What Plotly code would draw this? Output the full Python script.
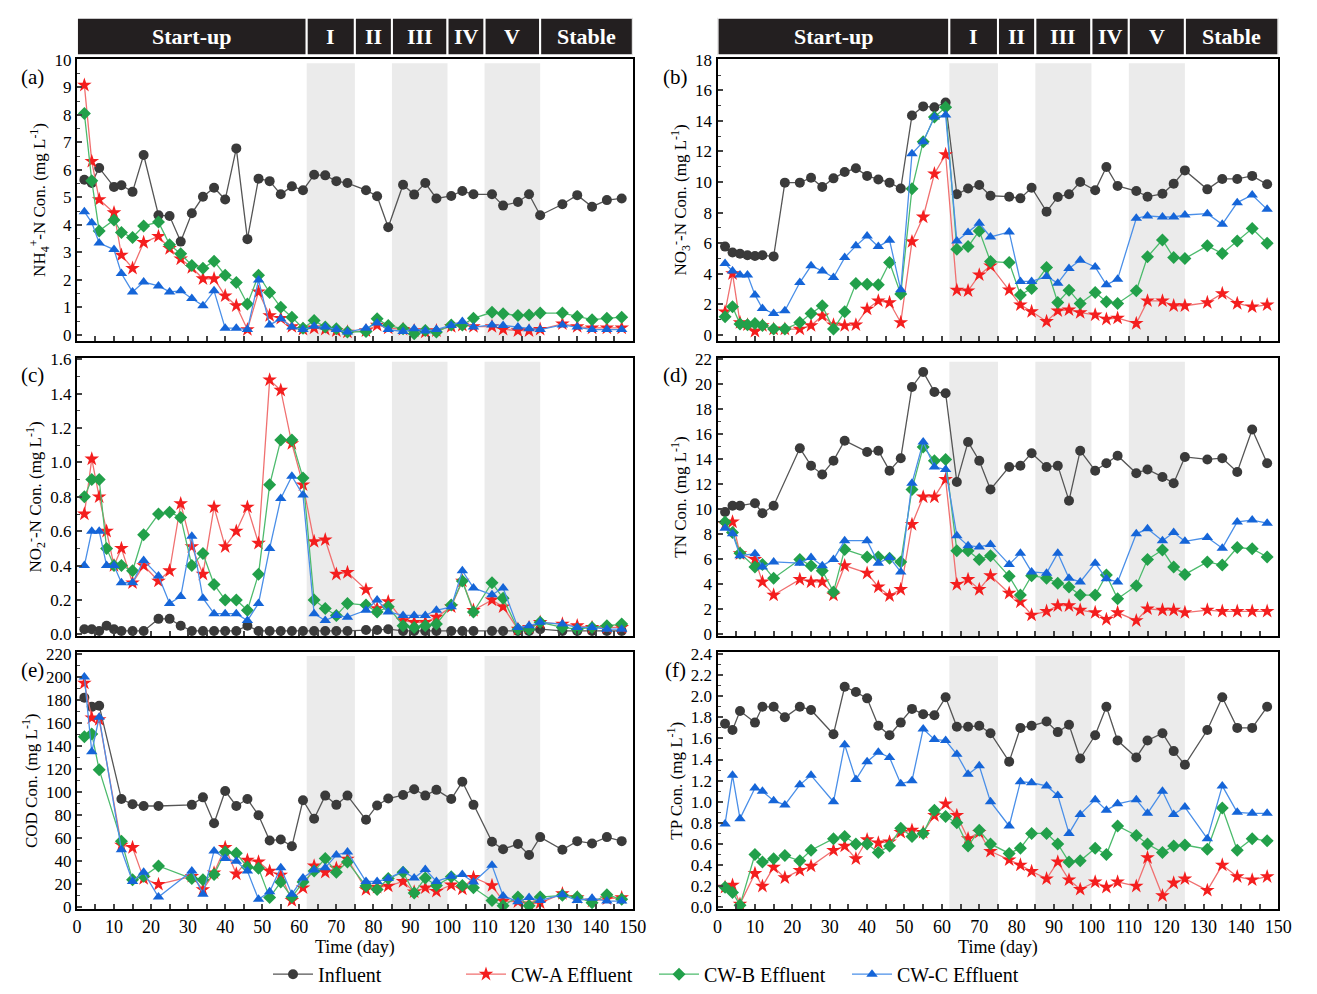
import plotly.graph_objects as go

# ---------------- data ----------------
days_a = [2,4,6,10,12,15,18,22,25,28,31,34,37,40,43,46,49,52,55,58,61,64,67,70,73,78,81,84,88,91,94,97,101,104,107,112,115,119,122,125,131,135,139,143,147]
nh4_inf = [5.64,5.52,6.07,5.38,5.44,5.2,6.54,4.35,4.32,3.39,4.42,5.02,5.35,4.92,6.78,3.48,5.68,5.59,5.11,5.4,5.26,5.82,5.8,5.59,5.52,5.26,5.04,3.91,5.46,5.1,5.52,4.96,5.05,5.23,5.11,5.11,4.7,4.83,5.11,4.35,4.75,5.08,4.66,4.9,4.96]
nh4_a = [9.08,6.31,4.92,4.44,2.9,2.42,3.36,3.58,3.14,2.76,2.45,2.04,2.04,1.42,1.06,0.19,1.56,0.7,0.6,0.3,0.2,0.25,0.2,0.15,0.1,0.15,0.35,0.25,0.2,0.15,0.1,0.15,0.3,0.35,0.3,0.3,0.2,0.15,0.15,0.2,0.4,0.3,0.25,0.25,0.25]
nh4_b = [8.05,5.6,3.78,4.18,3.72,3.54,3.96,4.1,3.28,2.95,2.52,2.42,2.68,2.17,1.9,1.12,2.17,1.54,1.0,0.64,0.24,0.52,0.28,0.22,0.1,0.12,0.58,0.34,0.22,0.04,0.16,0.1,0.36,0.36,0.6,0.82,0.77,0.7,0.72,0.79,0.79,0.67,0.55,0.6,0.64]
nh4_c = [4.48,4.08,3.34,3.1,2.23,1.56,1.92,1.78,1.56,1.6,1.32,1.06,1.6,0.24,0.24,0.19,1.99,0.36,0.58,0.28,0.19,0.31,0.28,0.19,0.1,0.24,0.43,0.19,0.12,0.22,0.14,0.19,0.34,0.48,0.28,0.36,0.34,0.28,0.22,0.19,0.36,0.28,0.19,0.19,0.19]

days_b = [2,4,6,8,10,12,15,18,22,25,28,31,34,37,40,43,46,49,52,55,58,61,64,67,70,73,78,81,84,88,91,94,97,101,104,107,112,115,119,122,125,131,135,139,143,147]
no3_inf = [5.77,5.38,5.3,5.2,5.15,5.2,5.13,9.96,9.96,10.28,9.67,10.24,10.65,10.9,10.4,10.17,9.96,9.57,14.36,14.95,14.9,15.2,9.2,9.57,9.8,9.1,9.04,8.93,9.63,8.06,9.02,9.2,10.0,9.46,10.98,9.74,9.41,9.04,9.23,9.89,10.76,9.52,10.2,10.2,10.4,9.85]
no3_a = [1.5,4.0,0.8,0.65,0.22,0.6,0.37,0.37,0.37,0.6,1.24,0.65,0.6,0.65,1.68,2.22,2.11,0.8,6.1,7.71,10.54,11.8,2.92,2.88,3.92,4.51,2.94,1.96,1.52,0.87,1.57,1.63,1.45,1.3,1.02,1.09,0.74,2.22,2.22,1.9,1.9,2.11,2.7,2.05,1.83,1.96]
no3_b = [1.18,1.83,0.7,0.65,0.74,0.6,0.37,0.37,0.8,1.39,1.9,0.37,1.5,3.35,3.31,3.27,4.73,2.66,9.56,12.64,14.25,14.9,5.6,5.77,6.8,4.79,4.73,2.61,3.03,4.4,2.11,2.92,2.05,2.77,2.16,2.05,2.88,5.1,6.21,5.05,4.99,5.82,5.32,6.14,6.95,5.99]
no3_c = [4.66,4.18,3.92,3.92,2.61,1.72,1.39,1.57,3.42,4.51,4.18,3.75,5.05,5.82,6.47,5.77,6.19,2.94,11.85,12.64,14.25,14.38,6.14,6.69,7.3,6.4,6.73,3.49,3.49,3.81,3.38,4.34,4.88,4.44,3.27,3.64,7.63,7.78,7.71,7.71,7.84,7.93,7.23,8.65,9.15,8.21]

days_c = days_b
no2_inf = [0.03,0.03,0.02,0.05,0.03,0.02,0.02,0.02,0.09,0.09,0.05,0.02,0.02,0.02,0.02,0.02,0.05,0.02,0.02,0.02,0.02,0.02,0.02,0.02,0.02,0.02,0.025,0.025,0.03,0.02,0.02,0.02,0.02,0.02,0.02,0.02,0.02,0.02,0.02,0.02,0.03,0.02,0.02,0.02,0.02,0.02]
no2_a = [0.70,1.02,0.80,0.60,0.40,0.50,0.30,0.40,0.31,0.37,0.76,0.51,0.35,0.74,0.51,0.60,0.74,0.53,1.48,1.42,1.11,0.87,0.54,0.55,0.35,0.36,0.26,0.15,0.19,0.08,0.07,0.07,0.10,0.16,0.31,0.14,0.20,0.16,0.03,0.04,0.07,0.06,0.05,0.04,0.04,0.04]
no2_b = [0.80,0.90,0.90,0.50,0.40,0.40,0.37,0.58,0.70,0.71,0.68,0.40,0.47,0.29,0.20,0.20,0.14,0.35,0.87,1.13,1.13,0.91,0.20,0.15,0.11,0.18,0.17,0.13,0.16,0.05,0.04,0.05,0.06,0.17,0.31,0.13,0.30,0.21,0.03,0.03,0.07,0.04,0.03,0.04,0.05,0.06]
no2_c = [0.40,0.60,0.60,0.40,0.40,0.30,0.30,0.43,0.34,0.18,0.22,0.57,0.21,0.12,0.12,0.12,0.08,0.18,0.50,0.79,0.92,0.81,0.12,0.08,0.11,0.10,0.14,0.20,0.13,0.11,0.11,0.11,0.14,0.16,0.37,0.27,0.23,0.27,0.04,0.05,0.07,0.06,0.04,0.04,0.03,0.03]

days_d = [2,4,6,10,12,15,22,25,28,31,34,40,43,46,49,52,55,58,61,64,67,70,73,78,81,84,88,91,94,97,101,104,107,112,115,119,122,125,131,135,139,143,147]
tn_inf = [9.8,10.3,10.3,10.5,9.7,10.3,14.9,13.5,12.8,13.9,15.5,14.6,14.7,13.1,14.1,19.8,21.0,19.4,19.3,12.2,15.4,13.9,11.6,13.4,13.5,14.5,13.4,13.5,10.7,14.7,13.1,13.7,14.3,12.9,13.2,12.6,12.1,14.2,14.0,14.1,13.0,16.4,13.7]
tn_a = [8.8,9.0,6.46,6.0,4.2,3.15,4.4,4.2,4.2,3.15,5.5,4.9,3.8,3.1,3.6,8.8,11.0,11.0,12.4,4.0,4.4,3.6,4.7,3.3,2.6,1.55,1.85,2.3,2.3,1.95,1.75,1.2,1.75,1.1,2.05,1.95,1.95,1.75,1.95,1.85,1.85,1.85,1.85]
tn_b = [9.0,8.15,6.5,5.4,5.6,4.5,6.0,5.5,5.1,3.4,6.8,6.2,6.2,6.1,5.8,11.6,15.0,13.9,14.0,6.7,6.7,6.0,6.3,4.65,3.15,4.7,4.5,4.1,3.8,3.15,3.15,4.75,2.85,3.9,6.0,6.75,5.4,4.8,5.8,5.55,6.95,6.85,6.2]
tn_c = [8.5,8.05,6.3,6.45,5.4,5.8,5.7,6.15,5.5,6.0,7.5,7.5,5.7,6.15,5.0,12.1,15.4,13.4,13.2,7.9,7.1,7.0,7.2,5.6,6.5,5.0,4.9,6.5,4.5,4.2,5.7,4.45,4.2,8.05,8.45,7.5,8.15,7.45,7.75,6.9,9.0,9.15,8.9]

days_e = [2,4,6,12,15,18,22,31,34,37,40,43,46,49,52,55,58,61,64,67,70,73,78,81,84,88,91,94,97,101,104,107,112,115,119,122,125,131,135,139,143,147]
cod_inf = [182,174,175,94,89.5,88,88,89,95.5,73,101,88,94,80,58,59,53,93,77,97,89,97,76,88.5,94.5,97.5,102.5,97,102,94,109,89,57,50.5,55,45.5,61,50,57.5,55.5,61,57.5]
cod_a = [194.6,164.5,163,54,52,25,20,27,15.5,30,52,29,41,39.5,31.5,28,6,17,36,30.5,34,42,15.5,17.5,18.5,22.5,13.5,17,14,19.5,16,26,19,5.5,5,3,4,12,8.5,5.5,7.5,8.5]
cod_b = [148,150.5,119.5,57.5,24,27,36,25,24,28.5,48,47,35,34,8.5,22,9,22,31.5,42.5,30.5,39.5,18.5,15.5,25,30.5,12.5,25.5,19,26.5,19,17,6,1.5,9,1.5,9,10.5,9,4,11,7]
cod_c = [200,135,165,50,22.5,30.5,9,31.5,11.5,49,42.5,40,31.5,7,13.5,34.5,11.5,25.5,32.5,34.5,45.5,48,22.5,22.5,25,31.5,25.5,33,22.5,27,28.5,22,36.5,10,5,8.5,6,11,6,8,5.5,5.5]

days_f = [2,4,6,10,12,15,18,22,25,31,34,37,40,43,46,49,52,55,58,61,64,67,70,73,78,81,84,88,91,94,97,101,104,107,112,115,119,122,125,131,135,139,143,147]
tp_inf = [1.74,1.68,1.86,1.75,1.90,1.90,1.80,1.90,1.87,1.64,2.09,2.04,1.98,1.72,1.63,1.75,1.88,1.83,1.82,1.99,1.71,1.71,1.72,1.65,1.38,1.70,1.72,1.76,1.66,1.73,1.41,1.63,1.90,1.58,1.42,1.58,1.65,1.48,1.35,1.68,1.99,1.70,1.70,1.90]
tp_a = [0.19,0.21,0.03,0.32,0.20,0.38,0.28,0.35,0.39,0.54,0.58,0.46,0.64,0.61,0.62,0.71,0.73,0.71,0.87,0.98,0.87,0.65,0.71,0.53,0.45,0.40,0.34,0.27,0.43,0.26,0.17,0.24,0.19,0.24,0.20,0.47,0.11,0.23,0.27,0.16,0.40,0.29,0.26,0.29]
tp_b = [0.19,0.14,0.02,0.50,0.43,0.46,0.49,0.44,0.54,0.65,0.67,0.60,0.60,0.52,0.58,0.75,0.67,0.70,0.92,0.86,0.80,0.58,0.73,0.60,0.51,0.56,0.70,0.70,0.60,0.43,0.44,0.56,0.50,0.77,0.68,0.60,0.52,0.58,0.59,0.55,0.94,0.54,0.65,0.63]
tp_c = [0.79,1.25,0.84,1.13,1.10,1.01,0.97,1.16,1.25,1.00,1.54,1.21,1.38,1.47,1.42,1.17,1.20,1.69,1.59,1.58,1.45,1.26,1.34,1.00,0.77,1.19,1.18,1.15,1.06,0.70,0.88,1.02,0.92,0.98,1.02,0.89,1.10,0.88,0.95,0.65,1.15,0.90,0.89,0.89]

series_names = ["Influent", "CW-A Effluent", "CW-B Effluent", "CW-C Effluent"]
phase_labels = ["Start-up", "I", "II", "III", "IV", "V", "Stable"]
phase_bounds = [0, 62, 75, 85, 100, 110, 125, 150]
shaded = [(62, 75), (85, 100), (110, 125)]
x_ticks = list(range(0, 151, 10))

# ---------------- styling ----------------
W, H = 1317, 994
FONT = "Liberation Serif, Times New Roman, serif"
styles = [
    dict(line=dict(color="#555555", width=1.3), marker=dict(symbol="circle", size=10, color="#3a3a3a")),
    dict(line=dict(color="#f07070", width=1.3), marker=dict(symbol="star", size=11, color="#f41e1e")),
    dict(line=dict(color="#4dbb6d", width=1.3), marker=dict(symbol="diamond", size=10, color="#22a04a")),
    dict(line=dict(color="#4a8fe8", width=1.3), marker=dict(symbol="triangle-up", size=10, color="#1565d8")),
]

def py(p):
    return 1 - p / H

def px(p):
    return p / W

col_x = [(73, 637), (723, 1292)]
row_y = [(52, 339), (356, 640), (656, 918)]

panels = [
    dict(days=days_a, data=[nh4_inf, nh4_a, nh4_b, nh4_c], col=0, row=0, label="(a)",
         title="NH<sub>4</sub><sup>+</sup>-N Con. (mg L<sup>-1</sup>)", rng=[-0.22, 10.03], dtick=1, minor=0.5, fmt=""),
    dict(days=days_b, data=[no3_inf, no3_a, no3_b, no3_c], col=1, row=0, label="(b)",
         title="NO<sub>3</sub><sup>-</sup>-N Con. (mg L<sup>-1</sup>)", rng=[-0.4, 18.05], dtick=2, minor=1, fmt=""),
    dict(days=days_c, data=[no2_inf, no2_a, no2_b, no2_c], col=0, row=1, label="(c)",
         title="NO<sub>2</sub><sup>-</sup>-N Con. (mg L<sup>-1</sup>)", rng=[-0.012, 1.61], dtick=0.2, minor=0.1, fmt=".1f"),
    dict(days=days_d, data=[tn_inf, tn_a, tn_b, tn_c], col=1, row=1, label="(d)",
         title="TN Con. (mg L<sup>-1</sup>)", rng=[-0.16, 22.15], dtick=2, minor=1, fmt=""),
    dict(days=days_e, data=[cod_inf, cod_a, cod_b, cod_c], col=0, row=2, label="(e)",
         title="COD Con. (mg L<sup>-1</sup>)", rng=[-1.7, 221.5], dtick=20, minor=10, fmt=""),
    dict(days=days_f, data=[tp_inf, tp_a, tp_b, tp_c], col=1, row=2, label="(f)",
         title="TP Con. (mg L<sup>-1</sup>)", rng=[-0.02, 2.418], dtick=0.2, minor=0.1, fmt=".1f"),
]

fig = go.Figure()
layout = dict(
    width=W, height=H, margin=dict(l=0, r=0, t=0, b=0),
    paper_bgcolor="white", plot_bgcolor="white",
    font=dict(family=FONT, size=17, color="black"),
    showlegend=True,
    legend=dict(orientation="h", x=0.5, xanchor="center", y=py(984), yanchor="middle",
                font=dict(family=FONT, size=20), itemwidth=40, tracegroupgap=0,
                entrywidth=138, entrywidthmode="pixels",
                bgcolor="rgba(0,0,0,0)"),
)
shapes = []
annotations = []

for i, p in enumerate(panels):
    n = i + 1
    xa = "xaxis" if n == 1 else f"xaxis{n}"
    ya = "yaxis" if n == 1 else f"yaxis{n}"
    xr = "x" if n == 1 else f"x{n}"
    yr = "y" if n == 1 else f"y{n}"
    cx0, cx1 = col_x[p["col"]]
    ry0, ry1 = row_y[p["row"]]
    bottom = p["row"] == 2
    layout[xa] = dict(
        domain=[px(cx0), px(cx1)], anchor=yr, range=[0, 150],
        tickvals=x_ticks, showticklabels=bottom, ticks="inside", ticklen=5, tickwidth=1.5,
        minor=dict(dtick=5, ticks="inside", ticklen=5, tickwidth=1.5, tick0=0),
        showline=True, mirror=True, linecolor="black", linewidth=2.2,
        showgrid=False, zeroline=False, tickfont=dict(size=18),
        title=dict(text="Time (day)", font=dict(size=18), standoff=2) if bottom else None,
    )
    layout[ya] = dict(
        domain=[py(ry1), py(ry0)], anchor=xr, range=p["rng"],
        dtick=p["dtick"], tick0=0, tickformat=p["fmt"], ticks="inside", ticklen=5, tickwidth=1.5,
        minor=dict(dtick=p["minor"], ticks="inside", ticklen=3, tickwidth=1.2),
        showline=True, mirror=True, linecolor="black", linewidth=2.2,
        showgrid=False, zeroline=False, tickfont=dict(size=17),
        title=dict(text=p["title"], font=dict(size=17), standoff=4),
    )
    for (s0, s1) in shaded:
        shapes.append(dict(type="rect", xref=xr, yref=f"{yr} domain", x0=s0, x1=s1, y0=0.0, y1=0.985,
                           fillcolor="#ebebeb", line=dict(width=0), layer="below"))
    for k, (name, vals) in enumerate(zip(series_names, p["data"])):
        st = styles[k]
        fig.add_trace(go.Scatter(
            x=p["days"], y=vals, mode="lines+markers", name=name,
            xaxis=xr, yaxis=yr, line=st["line"], marker=st["marker"],
            legendgroup=name, showlegend=(i == 0),
        ))
    lx = 28 if p["col"] == 0 else 680
    annotations.append(dict(text=p["label"], xref="paper", yref="paper", x=px(lx), y=py(ry0 + 18),
                            showarrow=False, font=dict(size=21, family=FONT), xanchor="center", yanchor="middle"))

# header phase bars
for xr in ["x", "x2"]:
    for j, lab in enumerate(phase_labels):
        x0, x1 = phase_bounds[j], phase_bounds[j + 1]
        shapes.append(dict(type="rect", xref=xr, yref="paper", x0=x0, x1=x1, y0=py(48), y1=py(10),
                           fillcolor="#231f20", line=dict(color="white", width=2), layer="above"))
        annotations.append(dict(text=f"<b>{lab}</b>", xref=xr, yref="paper", x=(x0 + x1) / 2, y=py(29),
                                showarrow=False, font=dict(size=22, color="white", family=FONT),
                                xanchor="center", yanchor="middle"))

layout["shapes"] = shapes
layout["annotations"] = annotations
fig.update_layout(**layout)
fig.write_html("out.html")
